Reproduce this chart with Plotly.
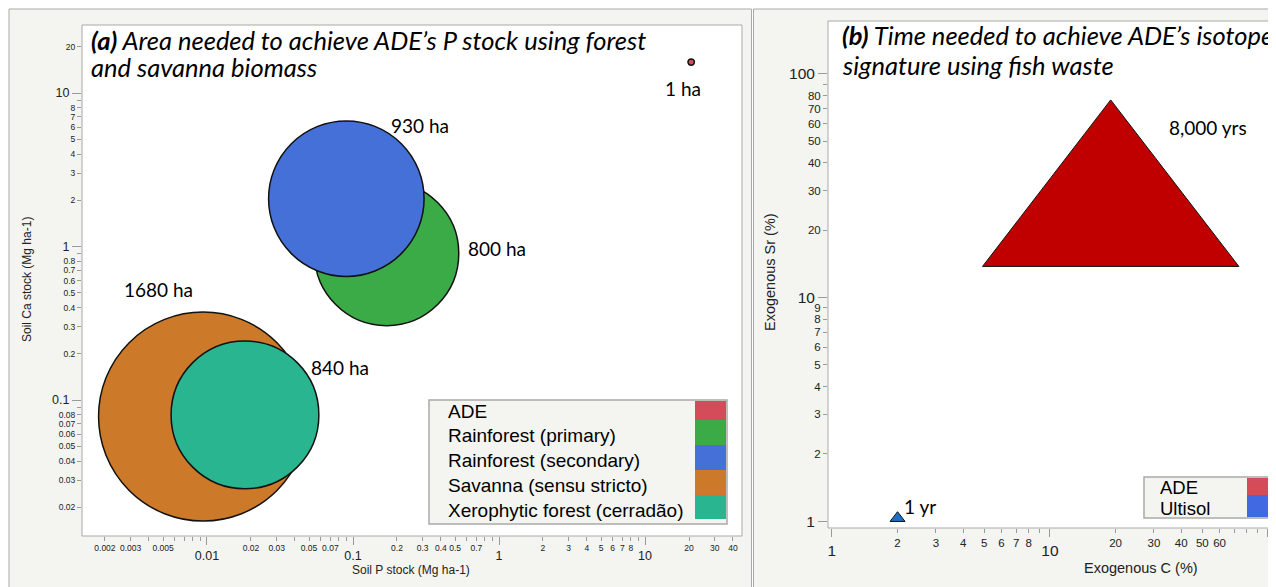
import math
import plotly.graph_objects as go

# ---------------- data ----------------
habitats = ["ADE", "Rainforest (primary)", "Rainforest (secondary)",
            "Savanna (sensu stricto)", "Xerophytic forest (cerradão)"]
soil_p = [20.7, 0.17, 0.09, 0.0094, 0.0182]          # Mg ha-1
soil_ca = [15.9, 0.90, 2.05, 0.078, 0.080]           # Mg ha-1
area_ha = [1, 800, 930, 1680, 840]
area_labels = ["1 ha", "800 ha", "930 ha", "1680 ha", "840 ha"]
habitat_colors = ["#d44b5a", "#3aab46", "#4470d8", "#cc7a2a", "#29b590"]

soils = ["ADE", "Ultisol"]
exo_c = [19.0, 2.0]          # %
exo_sr = [24.4, 1.03]        # %
time_labels = ["8,000 yrs", "1 yr"]
tri_colors = ["#c00000", "#1f6fc4"]
tri_sizes = [222, 13]
soil_legend_colors = ["#d44b5a", "#4169e1"]

# tick labels
a_x_major = [0.01, 0.1, 1, 10]
a_x_minor = [0.002, 0.003, 0.004, 0.005, 0.006, 0.007, 0.008, 0.009,
             0.02, 0.03, 0.04, 0.05, 0.06, 0.07, 0.08, 0.09,
             0.2, 0.3, 0.4, 0.5, 0.6, 0.7, 0.8, 0.9,
             2, 3, 4, 5, 6, 7, 8, 9, 20, 30, 40]
a_x_minor_text = ["0.002", "0.003", "", "0.005", "", "", "", "",
                  "0.02", "0.03", "", "0.05", "", "0.07", "", "",
                  "0.2", "0.3", "0.4", "0.5", "", "0.7", "", "",
                  "2", "3", "4", "5", "6", "7", "8", "", "20", "30", "40"]
a_y_major = [0.1, 1, 10]
a_y_minor = [0.02, 0.03, 0.04, 0.05, 0.06, 0.07, 0.08, 0.09,
             0.2, 0.3, 0.4, 0.5, 0.6, 0.7, 0.8, 0.9,
             2, 3, 4, 5, 6, 7, 8, 9, 20]
a_y_minor_text = ["0.02", "0.03", "0.04", "0.05", "0.06", "0.07", "0.08", "",
                  "0.2", "0.3", "0.4", "0.5", "0.6", "0.7", "0.8", "",
                  "2", "3", "4", "5", "6", "7", "8", "", "20"]
b_x_major = [1, 10, 100]
b_x_minor = [2, 3, 4, 5, 6, 7, 8, 9, 20, 30, 40, 50, 60, 70, 80, 90]
b_x_minor_text = ["2", "3", "4", "5", "6", "7", "8", "", "20", "30", "40", "50", "60", "", "", ""]
b_y_major = [1, 10, 100]
b_y_minor = [2, 3, 4, 5, 6, 7, 8, 9, 20, 30, 40, 50, 60, 70, 80, 90]
b_y_minor_text = ["2", "3", "4", "5", "6", "7", "8", "9", "20", "30", "40", "50", "60", "70", "80", ""]

title_a = ["<b><i>(a)</i></b><i> Area needed to achieve ADE’s P stock using forest</i>",
           "<i>and savanna biomass</i>"]
title_b = ["<b><i>(b)</i></b><i> Time needed to achieve ADE’s isotope</i>",
           "<i>signature using fish waste</i>"]

# ---------------- helpers (layout only) ----------------
OFF = 8                    # default body margin of the page
W, H = 1276 - OFF, 587 - OFF
def px(x):
    return (x - OFF) / W
def py(y):
    return 1 - (y - OFF) / H

PANEL_BG = "#f4f4f0"
FRAME = "#a9a9a9"
TICKC = "#9a9a9a"
TXT = "#222222"
LAB_FONT = "Lato"
AX_FONT = "Liberation Sans"

fig = go.Figure()

# panel (a) bubbles, size proportional to sqrt(area)
fig.add_trace(go.Scatter(
    x=soil_p, y=soil_ca, mode="markers", xaxis="x", yaxis="y",
    marker=dict(size=area_ha, sizemode="area", sizeref=1 / 13.0, sizemin=3.2,
                color=habitat_colors, opacity=1,
                line=dict(color="#111111", width=1.5)),
    hoverinfo="text", text=habitats, showlegend=False))

# panel (b) triangles
fig.add_trace(go.Scatter(
    x=exo_c, y=exo_sr, mode="markers", xaxis="x2", yaxis="y2",
    marker=dict(symbol="triangle-up", size=tri_sizes, color=tri_colors, opacity=1,
                line=dict(color="#111111", width=1)),
    hoverinfo="text", text=soils, showlegend=False))

# dummy traces to host overlay (minor-label) axes
fig.add_trace(go.Scatter(x=[None], y=[None], xaxis="x3", yaxis="y3", showlegend=False))
fig.add_trace(go.Scatter(x=[None], y=[None], xaxis="x4", yaxis="y4", showlegend=False))

a_xdom = [px(82), px(742)]
a_ydom = [py(536), py(25)]
b_xdom = [px(828), 1.0]
b_ydom = [py(528), py(21)]

a_xrange = [-2.856, 1.664]
a_yrange = [-1.886, 1.443]
b_xrange = [-0.018, 2.037]
b_yrange = [-0.031, 2.237]

def major_axis(dom, rng, vals, size, anchor, ticklen=8):
    return dict(domain=dom, range=rng, type="log", anchor=anchor,
                tickmode="array", tickvals=vals, ticktext=[f"{v:g}" for v in vals],
                ticks="outside", ticklen=ticklen, tickcolor=TICKC, tickwidth=1,
                tickfont=dict(family=AX_FONT, size=size, color=TXT),
                showline=False, showgrid=False, zeroline=False)

def minor_axis(over, rng, vals, text, size, anchor, side):
    return dict(overlaying=over, range=rng, type="log", anchor=anchor, side=side,
                tickmode="array", tickvals=vals, ticktext=text,
                ticks="outside", ticklen=4, tickcolor=TICKC, tickwidth=1,
                tickfont=dict(family=AX_FONT, size=size, color=TXT),
                showline=False, showgrid=False, zeroline=False)

layout_axes = dict(
    xaxis=major_axis(a_xdom, a_xrange, a_x_major, 12.5, "y"),
    yaxis=major_axis(a_ydom, a_yrange, a_y_major, 12.5, "x", ticklen=9),
    xaxis3=minor_axis("x", a_xrange, a_x_minor, a_x_minor_text, 8.5, "y3", "bottom"),
    yaxis3=minor_axis("y", a_yrange, a_y_minor, a_y_minor_text, 8.5, "x3", "left"),
    xaxis2=major_axis(b_xdom, b_xrange, b_x_major, 15.5, "y2"),
    yaxis2=major_axis(b_ydom, b_yrange, b_y_major, 15.5, "x2", ticklen=9),
    xaxis4=minor_axis("x2", b_xrange, b_x_minor, b_x_minor_text, 11.5, "y4", "bottom"),
    yaxis4=minor_axis("y2", b_yrange, b_y_minor, b_y_minor_text, 11.5, "x4", "left"),
)

shapes = [
    dict(type="rect", xref="paper", yref="paper", x0=px(9), x1=px(751.5), y0=py(9), y1=py(640),
         fillcolor=PANEL_BG, line=dict(color=FRAME, width=1), layer="below"),
    dict(type="rect", xref="paper", yref="paper", x0=px(753.5), x1=px(1320), y0=py(9), y1=py(640),
         fillcolor=PANEL_BG, line=dict(color=FRAME, width=1), layer="below"),
    dict(type="rect", xref="paper", yref="paper", x0=a_xdom[0], x1=a_xdom[1], y0=a_ydom[0], y1=a_ydom[1],
         fillcolor="white", line=dict(color=FRAME, width=1), layer="below"),
    dict(type="rect", xref="paper", yref="paper", x0=b_xdom[0], x1=px(1320), y0=b_ydom[0], y1=b_ydom[1],
         fillcolor="white", line=dict(color=FRAME, width=1), layer="below"),
]

annotations = []

def note(x, y, text, size, family, xanchor="center", yanchor="middle", **kw):
    d = dict(xref="paper", yref="paper", x=x, y=y, text=text, showarrow=False,
             xanchor=xanchor, yanchor=yanchor,
             font=dict(family=family, size=size, color=kw.pop("color", "black")))
    d.update(kw)
    annotations.append(d)

# bubble / triangle labels
a_shifts = [(-8, -26), (110, 5), (74, 73), (-45, 127), (95, 47)]
for xv, yv, lab, (dx, dy) in zip(soil_p, soil_ca, area_labels, a_shifts):
    annotations.append(dict(x=math.log10(xv), y=math.log10(yv),
                            xref="x", yref="y", text=lab, showarrow=False,
                            xanchor="center", yanchor="middle",
                            xshift=dx, yshift=dy, font=dict(family=LAB_FONT, size=19, color="black")))
b_shifts = [(97, 83), (22, 12)]
for xv, yv, lab, (dx, dy) in zip(exo_c, exo_sr, time_labels, b_shifts):
    annotations.append(dict(x=math.log10(xv), y=math.log10(yv),
                            xref="x2", yref="y2", text=lab, showarrow=False,
                            xanchor="center", yanchor="middle",
                            xshift=dx, yshift=dy, font=dict(family=LAB_FONT, size=19, color="black")))

# titles (one annotation per line for tight line spacing)
for line, yc in zip(title_a, [40, 67]):
    note(px(89), py(yc), line, 25.5, LAB_FONT, xanchor="left")
for line, yc in zip(title_b, [35, 65]):
    note(px(840), py(yc), line, 25.5, LAB_FONT, xanchor="left")

# axis titles
note(px(411), py(570), "Soil P stock (Mg ha-1)", 12, AX_FONT, color=TXT)
note(px(27), py(280), "Soil Ca stock (Mg ha-1)", 12, AX_FONT, color=TXT, textangle=-90)
note(px(1141), py(568), "Exogenous C (%)", 14.5, AX_FONT, color=TXT)
note(px(770), py(272), "Exogenous Sr (%)", 14.5, AX_FONT, color=TXT, textangle=-90)

# legend (a)
shapes.append(dict(type="rect", xref="paper", yref="paper", x0=px(429), x1=px(727), y0=py(400), y1=py(524),
                   fillcolor=PANEL_BG, line=dict(color=FRAME, width=1.5), layer="above"))
a_bounds = [401, 420, 445, 470, 495, 519]
a_text_y = [411, 435, 460, 485, 510]
for i, (name, col) in enumerate(zip(habitats, habitat_colors)):
    shapes.append(dict(type="rect", xref="paper", yref="paper", x0=px(695), x1=px(726),
                       y0=py(a_bounds[i + 1]), y1=py(a_bounds[i]), fillcolor=col,
                       line=dict(width=0), layer="above"))
    note(px(446), py(a_text_y[i]), name, 19, AX_FONT, xanchor="left")

# legend (b)
shapes.append(dict(type="rect", xref="paper", yref="paper", x0=px(1144), x1=px(1273), y0=py(477), y1=py(518),
                   fillcolor=PANEL_BG, line=dict(color=FRAME, width=1.5), layer="above"))
b_bounds = [478, 495, 517]
b_text_y = [487, 508]
for i, (name, col) in enumerate(zip(soils, soil_legend_colors)):
    shapes.append(dict(type="rect", xref="paper", yref="paper", x0=px(1247), x1=px(1272),
                       y0=py(b_bounds[i + 1]), y1=py(b_bounds[i]), fillcolor=col,
                       line=dict(width=0), layer="above"))
    note(px(1158), py(b_text_y[i]), name, 18.5, AX_FONT, xanchor="left")

fig.update_layout(
    width=W, height=H, margin=dict(l=0, r=0, t=0, b=0),
    paper_bgcolor="white", plot_bgcolor="rgba(0,0,0,0)",
    showlegend=False, shapes=shapes, annotations=annotations,
    **layout_axes)

fig.write_html("out.html")
